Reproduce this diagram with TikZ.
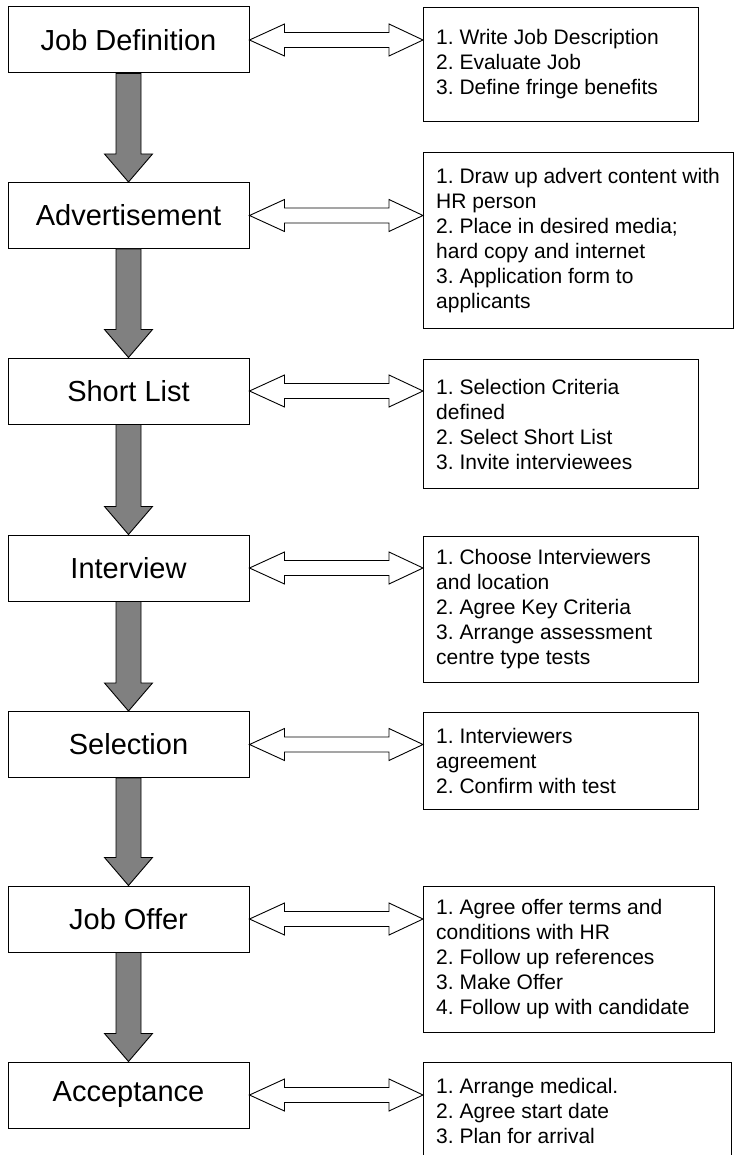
\documentclass[tikz,border=0pt]{standalone}
\usepackage{fontspec}
\setmainfont{Liberation Sans}
\usetikzlibrary{calc}
\definecolor{flowgray}{HTML}{808080}
\frenchspacing

% hollow two-headed block arrow between a stage and its task list
\newcommand{\linkarrow}[2]{%
  \draw[link] (#1.east)
    -- ($(#1.east)+(35,-16)$) -- ($(#1.east)+(35,-7.5)$)
    -- ($(#2.west|-#1.east)+(-34,-7.5)$) -- ($(#2.west|-#1.east)+(-34,-16)$)
    -- (#2.west|-#1.east)
    -- ($(#2.west|-#1.east)+(-34,16)$) -- ($(#2.west|-#1.east)+(-34,7.5)$)
    -- ($(#1.east)+(35,7.5)$) -- ($(#1.east)+(35,16)$) -- cycle;}

% filled block arrow from one stage down to the next
\newcommand{\flowarrow}[2]{%
  \draw[flow] ($(#1.south)+(-12.5,0)$)
    -- ($(#2.north)+(-12.5,-28)$) -- ($(#2.north)+(-24,-28)$)
    -- (#2.north)
    -- ($(#2.north)+(24,-28)$) -- ($(#2.north)+(12.5,-28)$)
    -- ($(#1.south)+(12.5,0)$) -- cycle;}

\begin{document}
\begin{tikzpicture}[x=1pt,y=-1pt,
  stage/.style={draw=black, line width=1pt, fill=white, minimum width=241pt,
    minimum height=66pt, inner sep=0pt, font=\fontsize{29}{34}\selectfont},
  taskbox/.style={draw=black, line width=1pt, fill=white, anchor=north west, inner sep=0pt},
  tasktext/.style={anchor=west, align=left, inner sep=0pt, font=\fontsize{21}{25}\selectfont},
  flow/.style={draw=black, line width=0.9pt, fill=flowgray, line join=miter},
  link/.style={draw=black, line width=0.9pt, fill=white, line join=miter}]

\useasboundingbox (0,0) rectangle (734,1155);
\clip (0,0) rectangle (734,1155);

% stages
\node[stage] (jd)  at (128.5,40)    {Job Definition};
\node[stage] (adv) at (128.5,215.5) {Advertisement};
\node[stage] (sl)  at (128.5,391)   {Short List};
\node[stage] (int) at (128.5,568)   {Interview};
\node[stage] (sel) at (128.5,744.5) {Selection};
\node[stage] (jo)  at (128.5,919)   {Job Offer};
\node[stage] (acc) at (128.5,1095)  {Acceptance};

% task lists
\node[taskbox, minimum width=275pt, minimum height=114pt] (r1) at (423,7) {};
\node[tasktext] (t1) at ($(r1.west)+(13,0)$)
  {1. Write Job Description\\2. Evaluate Job\\3. Define fringe benefits};

\node[taskbox, minimum width=310pt, minimum height=176pt] (r2) at (423,152) {};
\node[tasktext] (t2) at ($(r2.west)+(13,0)$)
  {1. Draw up advert content with\\HR person\\2. Place in desired media;\\hard copy and internet\\3. Application form to\\applicants};

\node[taskbox, minimum width=275pt, minimum height=129pt] (r3) at (423,359) {};
\node[tasktext] (t3) at ($(r3.west)+(13,0)$)
  {1. Selection Criteria\\defined\\2. Select Short List\\3. Invite interviewees};

\node[taskbox, minimum width=275pt, minimum height=146pt] (r4) at (423,536) {};
\node[tasktext] (t4) at ($(r4.west)+(13,0)$)
  {1. Choose Interviewers\\and location\\2. Agree Key Criteria\\3. Arrange assessment\\centre type tests};

\node[taskbox, minimum width=275pt, minimum height=97pt] (r5) at (423,712) {};
\node[tasktext] (t5) at ($(r5.west)+(13,0)$)
  {1. Interviewers\\agreement\\2. Confirm with test};

\node[taskbox, minimum width=291pt, minimum height=146pt] (r6) at (423,886) {};
\node[tasktext] (t6) at ($(r6.west)+(13,0)$)
  {1. Agree offer terms and\\conditions with HR\\2. Follow up references\\3. Make Offer\\4. Follow up with candidate};

\node[taskbox, minimum width=308pt, minimum height=96pt] (r7) at (423,1062) {};
\node[tasktext] (t7) at ($(r7.west)+(13,0)$)
  {1. Arrange medical.\\2. Agree start date\\3. Plan for arrival};

% stage-to-stage flow
\flowarrow{jd}{adv}
\flowarrow{adv}{sl}
\flowarrow{sl}{int}
\flowarrow{int}{sel}
\flowarrow{sel}{jo}
\flowarrow{jo}{acc}

% stage-to-task links
\linkarrow{jd}{r1}
\linkarrow{adv}{r2}
\linkarrow{sl}{r3}
\linkarrow{int}{r4}
\linkarrow{sel}{r5}
\linkarrow{jo}{r6}
\linkarrow{acc}{r7}
\end{tikzpicture}
\end{document}
